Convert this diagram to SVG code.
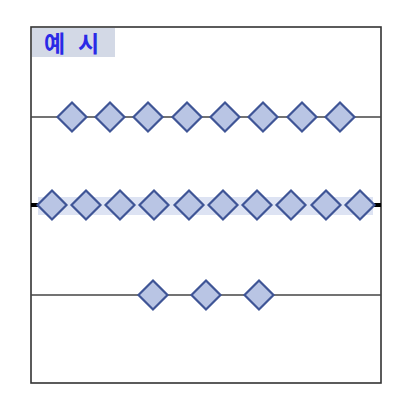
<svg xmlns="http://www.w3.org/2000/svg" width="400" height="405" viewBox="0 0 400 405">
<defs>
<style>
.ln{stroke:#444;stroke-width:1.3;fill:none}
.dm{fill:#b9c5e4;stroke:#3f5596;stroke-width:2.2;stroke-linejoin:miter}
.lbl{font-family:"Noto Sans CJK KR","Noto Sans CJK JP",sans-serif;font-size:23px;font-weight:bold;fill:#2a2ae6}
</style>
<polygon id="d" class="dm" points="0,-14.5 14.5,0 0,14.5 -14.5,0"/>
</defs>
<rect x="0" y="0" width="400" height="405" fill="#fff"/>
<g id="frame">
<rect x="31" y="27" width="350" height="356" fill="#fff" stroke="#333" stroke-width="1.6"/>
</g>
<g id="label">
<rect x="32" y="28" width="83" height="29" fill="#d3d9e6"/>
<text class="lbl" y="52"><tspan x="44">예</tspan><tspan x="78">시</tspan></text>
</g>
<g id="connectors">
<line class="ln" x1="31" y1="117" x2="381" y2="117"/>
<rect x="38" y="197" width="335" height="18" fill="#dde3f3"/>
<line x1="31" y1="205" x2="38" y2="205" stroke="#000" stroke-width="4"/>
<line x1="374" y1="205" x2="381" y2="205" stroke="#000" stroke-width="4"/>
<line class="ln" x1="31" y1="295" x2="381" y2="295"/>
</g>
<g id="row1">
<use href="#d" x="72" y="117"/>
<use href="#d" x="110" y="117"/>
<use href="#d" x="148" y="117"/>
<use href="#d" x="187" y="117"/>
<use href="#d" x="225" y="117"/>
<use href="#d" x="263" y="117"/>
<use href="#d" x="302" y="117"/>
<use href="#d" x="340" y="117"/>
</g>
<g id="row2">
<use href="#d" x="52" y="205"/>
<use href="#d" x="86" y="205"/>
<use href="#d" x="120" y="205"/>
<use href="#d" x="154" y="205"/>
<use href="#d" x="189" y="205"/>
<use href="#d" x="223" y="205"/>
<use href="#d" x="257" y="205"/>
<use href="#d" x="291" y="205"/>
<use href="#d" x="326" y="205"/>
<use href="#d" x="360" y="205"/>
</g>
<g id="row3">
<use href="#d" x="153" y="295"/>
<use href="#d" x="206" y="295"/>
<use href="#d" x="259" y="295"/>
</g>
</svg>
